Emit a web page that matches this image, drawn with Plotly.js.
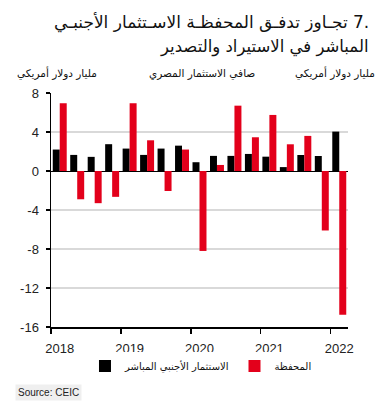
<!DOCTYPE html>
<html>
<head>
<meta charset="utf-8">
<script src="https://cdn.plot.ly/plotly-3.0.1.min.js"></script>
<style>html,body{margin:0;padding:0;background:#fff}#chart{width:388px;height:406px}</style>
</head>
<body>
<div id="chart"></div>
<script>
// Quarterly data, 2018Q1 - 2022Q1 (billion USD)
var quarters = ['2018Q1','2018Q2','2018Q3','2018Q4','2019Q1','2019Q2','2019Q3','2019Q4','2020Q1','2020Q2','2020Q3','2020Q4','2021Q1','2021Q2','2021Q3','2021Q4','2022Q1'];
var fdi = [2.2, 1.65, 1.45, 2.75, 2.3, 1.65, 2.3, 2.6, 0.9, 1.55, 1.55, 1.75, 1.47, 0.4, 1.64, 1.54, 4.04];
var portfolio = [6.95, -2.9, -3.3, -2.65, 6.95, 3.15, -2.05, 2.2, -8.2, 0.62, 6.7, 3.46, 5.75, 2.74, 3.6, -6.1, -14.75];
var yearLabels = ['2018','2019','2020','2021','2022'];
var yTicks = [8, 4, 0, -4, -8, -12, -16];
var fdiName = 'الاستثمار الأجنبي المباشر';
var portName = 'المحفظة';
var titleLine1 = '\u202B\u202A7.\u202C تجـاوز تدفـق المحفظـة الاسـتثمار الأجنبـي\u202C';
var titleLine2 = 'المباشر في الاستيراد والتصدير';
var unitLabel = 'مليار دولار أمريكي';
var centerLabel = 'صافي الاستثمار المصري';
var sourceText = 'Source: CEIC';

var xIdx = quarters.map(function(q, i){ return i; });
var yearIdx = [];
var yearBounds = [];
quarters.forEach(function(q, i){ if (q.slice(4) === 'Q1') { yearIdx.push(i); yearBounds.push(i - 0.5); } });

var arFont = 'DejaVu Sans, Noto Sans, sans-serif';
var numFont = 'Liberation Sans, Arial, sans-serif';

var traces = [
  {type:'bar', x:xIdx, y:fdi, name:fdiName, marker:{color:'#000000'}},
  {type:'bar', x:xIdx, y:portfolio, name:portName, marker:{color:'#e3001b'}}
];

var yCommon = {
  range:[-16, 8], tickvals:yTicks, ticktext:yTicks.map(String),
  ticks:'outside', ticklen:4, tickwidth:1.5, tickcolor:'#000',
  showline:true, linecolor:'#000', linewidth:1.5,
  tickfont:{family:numFont, size:13, color:'#222'},
  ticklabelstandoff:4, fixedrange:true
};

var layout = {
  width:388, height:406,
  margin:{l:51, r:39.5, t:93, b:79, pad:0},
  paper_bgcolor:'#fff', plot_bgcolor:'#fff',
  barmode:'group', bargap:0.2, bargroupgap:0,
  showlegend:true,
  legend:{orientation:'h', x:0.505, xanchor:'center', y:-0.167, yanchor:'middle',
          font:{family:arFont, size:10, color:'#111'}, itemwidth:30, traceorder:'normal'},
  xaxis:{
    range:[-0.5, quarters.length - 0.5],
    tickvals:yearIdx, ticktext:yearLabels, ticks:'',
    minor:{tickmode:'array', tickvals:yearBounds, ticks:'outside', ticklen:5, tickwidth:1.5, tickcolor:'#000', showgrid:false},
    showline:true, linecolor:'#000', linewidth:1.5, showgrid:false, zeroline:false,
    tickfont:{family:numFont, size:13, color:'#222'}, ticklabelstandoff:9, fixedrange:true
  },
  yaxis:Object.assign({}, yCommon, {
    side:'left', showgrid:true, gridcolor:'#d9d9d9', gridwidth:1.5,
    zeroline:true, zerolinecolor:'#000', zerolinewidth:1
  }),
  yaxis2:Object.assign({}, yCommon, {
    side:'right', overlaying:'y', showgrid:false, zeroline:false
  }),
  annotations:[
    {text:titleLine1, xref:'paper', yref:'paper', x:1.079, y:1.303, xanchor:'right', yanchor:'middle', showarrow:false,
     font:{family:arFont, size:17, color:'#111'}},
    {text:titleLine2, xref:'paper', yref:'paper', x:1.079, y:1.198, xanchor:'right', yanchor:'middle', showarrow:false,
     font:{family:arFont, size:16.5, color:'#111'}},
    {text:unitLabel, xref:'paper', yref:'paper', x:-0.121, y:1.085, xanchor:'left', yanchor:'middle', showarrow:false,
     font:{family:arFont, size:10.5, color:'#111'}},
    {text:centerLabel, xref:'paper', yref:'paper', x:0.509, y:1.085, xanchor:'center', yanchor:'middle', showarrow:false,
     font:{family:arFont, size:10.5, color:'#111'}},
    {text:unitLabel, xref:'paper', yref:'paper', x:1.099, y:1.085, xanchor:'right', yanchor:'middle', showarrow:false,
     font:{family:arFont, size:10.5, color:'#111'}},
    {text:sourceText, xref:'paper', yref:'paper', x:-0.121, y:-0.28, xanchor:'left', yanchor:'middle', showarrow:false,
     bgcolor:'#efefef', borderpad:2,
     font:{family:numFont, size:10, color:'#222'}}
  ]
};

Plotly.newPlot('chart', traces, layout, {displayModeBar:false, staticPlot:true});
</script>
</body>
</html>
